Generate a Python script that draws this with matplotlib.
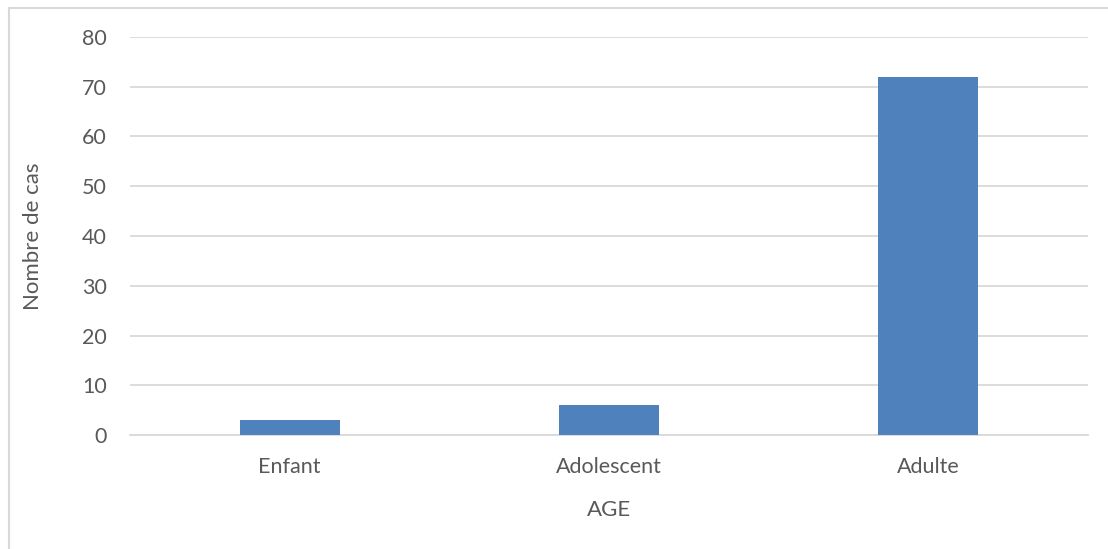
import matplotlib.pyplot as plt
from matplotlib.lines import Line2D

categories = ["Enfant", "Adolescent", "Adulte"]
counts = [3, 6, 72]
yticks = [0, 10, 20, 30, 40, 50, 60, 70, 80]

plt.rcParams['font.family'] = ['Lato', 'DejaVu Sans']
text_col = '#595959'
grid_col = '#D9D9D9'

fig = plt.figure(figsize=(11.08, 5.49), dpi=100)
ax = fig.add_axes([130 / 1108, 1 - 435 / 549, 958 / 1108, 398 / 549])

x = range(len(categories))
ax.bar(x, counts, width=0.313, color='#4F81BD', zorder=3)

ax.set_xlim(-0.5, len(categories) - 0.5)
ax.set_ylim(0, 80)
ax.set_yticks(yticks)
ax.set_xticks(list(x))
ax.set_xticklabels(categories)
ax.yaxis.grid(True, color=grid_col, linewidth=1.3, zorder=0)

for s in ['top', 'right', 'left']:
    ax.spines[s].set_visible(False)
ax.spines['bottom'].set_color(grid_col)
ax.spines['bottom'].set_linewidth(1.3)
ax.tick_params(length=0, labelsize=15.5, colors=text_col)
ax.tick_params(axis='y', pad=16.5)
ax.tick_params(axis='x', pad=15.5)

ax.set_xlabel("AGE", fontsize=16, color=text_col, labelpad=17)
ax.set_ylabel("Nombre de cas", fontsize=16, color=text_col, labelpad=28)

# outer chart frame
fig.add_artist(Line2D([8.5 / 1108, 8.5 / 1108], [0, 1 - 7.5 / 549], transform=fig.transFigure,
                      color=grid_col, linewidth=1.5))
fig.add_artist(Line2D([8.5 / 1108, 1], [1 - 7.5 / 549, 1 - 7.5 / 549], transform=fig.transFigure,
                      color=grid_col, linewidth=1.5))

fig.savefig("out.png", dpi=100)
